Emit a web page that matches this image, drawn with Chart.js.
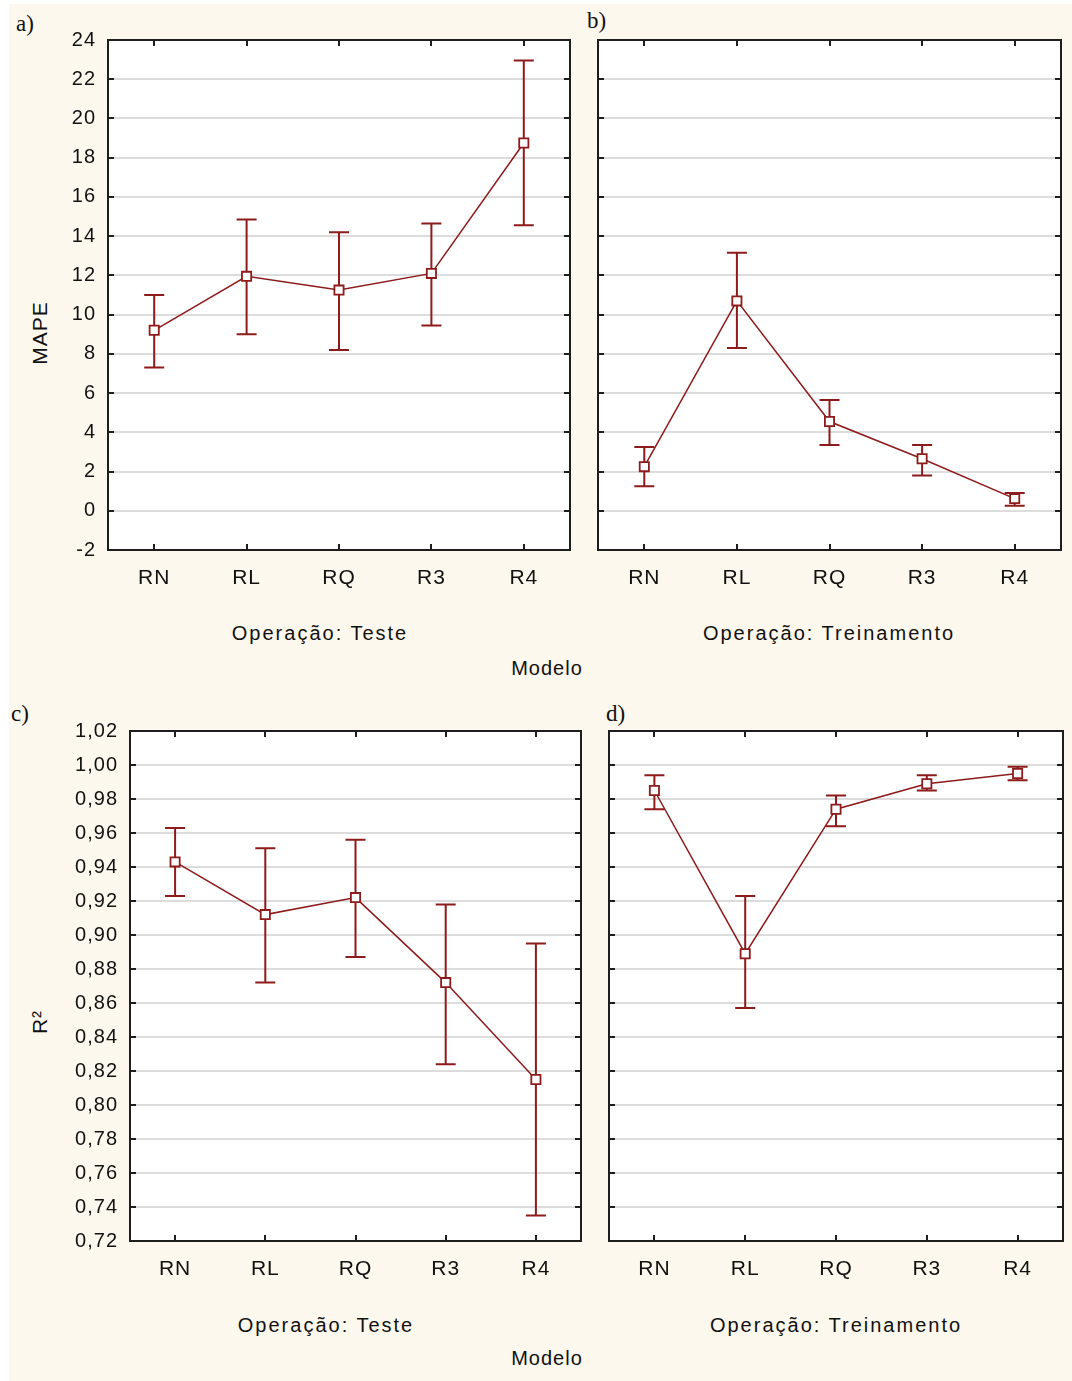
<!DOCTYPE html>
<html>
<head>
<meta charset="utf-8">
<script src="https://cdn.jsdelivr.net/npm/chart.js@4.4.1/dist/chart.umd.min.js"></script>
<style>
  body { margin: 0; background: #fff; width: 1072px; height: 1381px; position: relative; overflow: hidden; }
  #sheet { position: absolute; left: 9px; top: 4px; width: 1063px; height: 1377px; background: #fdf8ee; }
  canvas { position: absolute; }
  .txt { position: absolute; font-family: "Liberation Sans", Arial, sans-serif; font-size: 20px; color: #111; white-space: nowrap; line-height: 24px; }
  .sp { letter-spacing: 2px; transform: translateX(-50%); }
  .tag { position: absolute; font-family: "Liberation Serif", "Times New Roman", serif; font-size: 23px; color: #111; line-height: 24px; }
  .ytitle { transform: translate(-50%, -50%) rotate(-90deg); font-size: 21px; letter-spacing: 1px; }
</style>
</head>
<body>
<div id="sheet"></div>

<div class="tag" style="left:16px;top:12px">a)</div>
<div class="tag" style="left:587px;top:9px">b)</div>
<div class="tag" style="left:11px;top:702px">c)</div>
<div class="tag" style="left:606px;top:702px">d)</div>

<div class="txt ytitle" style="left:40px;top:333px">MAPE</div>
<div class="txt ytitle" style="left:40px;top:1022px">R²</div>

<div class="txt sp" style="left:320px;top:621px">Operação: Teste</div>
<div class="txt sp" style="left:829px;top:621px">Operação: Treinamento</div>
<div class="txt sp" style="left:547px;top:656px;letter-spacing:1px">Modelo</div>

<div class="txt sp" style="left:326px;top:1313px">Operação: Teste</div>
<div class="txt sp" style="left:836px;top:1313px">Operação: Treinamento</div>
<div class="txt sp" style="left:547px;top:1346px;letter-spacing:1px">Modelo</div>

<canvas id="chartA" width="570" height="580" style="left:10px;top:30px"></canvas>
<canvas id="chartB" width="483" height="580" style="left:588px;top:30px"></canvas>
<canvas id="chartC" width="581" height="580" style="left:10px;top:721px"></canvas>
<canvas id="chartD" width="473" height="580" style="left:599px;top:721px"></canvas>

<script>
const categories = ["RN", "RL", "RQ", "R3", "R4"];

// MAPE - Operação: Teste
const mapeTesteMean = [9.2, 11.95, 11.25, 12.1, 18.75];
const mapeTesteLow = [7.3, 9.0, 8.2, 9.45, 14.55];
const mapeTesteHigh = [11.0, 14.85, 14.2, 14.65, 22.95];

// MAPE - Operação: Treinamento
const mapeTreinoMean = [2.25, 10.7, 4.55, 2.65, 0.62];
const mapeTreinoLow = [1.25, 8.3, 3.35, 1.8, 0.25];
const mapeTreinoHigh = [3.25, 13.15, 5.65, 3.35, 0.9];

// R² - Operação: Teste
const r2TesteMean = [0.943, 0.912, 0.922, 0.872, 0.815];
const r2TesteLow = [0.923, 0.872, 0.887, 0.824, 0.735];
const r2TesteHigh = [0.963, 0.951, 0.956, 0.918, 0.895];

// R² - Operação: Treinamento
const r2TreinoMean = [0.985, 0.889, 0.974, 0.989, 0.995];
const r2TreinoLow = [0.974, 0.857, 0.964, 0.985, 0.991];
const r2TreinoHigh = [0.994, 0.923, 0.982, 0.994, 0.999];

// axis ranges: min, max, step
const mapeAxis = [-2, 24, 2];
const r2Axis = [0.72, 1.02, 0.02];

const lineColor = "#8e1b1b";
const frameColor = "#1e1e1e";

Chart.defaults.font.family = '"Liberation Sans", Arial, sans-serif';
Chart.defaults.font.size = 21;
Chart.defaults.color = "#111";

const panelFrame = {
  id: "panelFrame",
  beforeLayout: (chart) => { chart.ctx.letterSpacing = "1px"; },
  beforeDraw: (chart) => {
    const { ctx, chartArea: { left, top, width, height } } = chart;
    ctx.letterSpacing = "1px";
    ctx.save();
    ctx.fillStyle = "#fff";
    ctx.fillRect(left, top, width, height);
    ctx.restore();
  },
  beforeDatasetsDraw: (chart, args, opts) => {
    const { ctx, scales: { y } } = chart;
    const meta = chart.getDatasetMeta(0);
    ctx.save();
    ctx.strokeStyle = lineColor;
    ctx.lineWidth = 2;
    meta.data.forEach((pt, i) => {
      const yTop = y.getPixelForValue(opts.high[i]);
      const yBot = y.getPixelForValue(opts.low[i]);
      ctx.beginPath();
      ctx.moveTo(pt.x, yTop);
      ctx.lineTo(pt.x, yBot);
      ctx.moveTo(pt.x - 10, yTop);
      ctx.lineTo(pt.x + 10, yTop);
      ctx.moveTo(pt.x - 10, yBot);
      ctx.lineTo(pt.x + 10, yBot);
      ctx.stroke();
    });
    ctx.restore();
  },
  afterDraw: (chart) => {
    const { ctx, chartArea: { left, right, top, bottom }, scales: { x, y } } = chart;
    ctx.save();
    ctx.strokeStyle = frameColor;
    ctx.lineWidth = 2;
    ctx.beginPath();
    // tick marks point inwards on all four sides
    y.ticks.forEach((t) => {
      const py = Math.round(y.getPixelForValue(t.value));
      ctx.moveTo(left, py);
      ctx.lineTo(left + 6, py);
      ctx.moveTo(right, py);
      ctx.lineTo(right - 6, py);
    });
    categories.forEach((c, i) => {
      const px = Math.round(x.getPixelForValue(i));
      ctx.moveTo(px, top);
      ctx.lineTo(px, top + 6);
      ctx.moveTo(px, bottom);
      ctx.lineTo(px, bottom - 6);
    });
    ctx.stroke();
    ctx.strokeRect(left, top, right - left, bottom - top);
    ctx.restore();
  }
};

Chart.register(panelFrame);

const makePanel = (id, mean, low, high, axis, yWidth, padRight, showLabels, decimals) => {
  const ctx = document.getElementById(id).getContext("2d");
  return new Chart(ctx, {
    type: "line",
    data: {
      labels: categories,
      datasets: [{
        data: mean,
        borderColor: lineColor,
        borderWidth: 1.5,
        tension: 0,
        pointStyle: "rect",
        pointRadius: 6.5,
        pointBorderWidth: 1.8,
        pointBorderColor: lineColor,
        pointBackgroundColor: "#fff"
      }]
    },
    options: {
      responsive: false,
      animation: false,
      layout: { padding: { top: 10, right: padRight, left: 0, bottom: 0 } },
      plugins: {
        legend: { display: false },
        tooltip: { enabled: false },
        panelFrame: { low: low, high: high }
      },
      scales: {
        x: {
          offset: true,
          afterFit: (scale) => {
            scale.height = 60;
            scale.paddingLeft = 0;
            scale.paddingRight = 0;
          },
          grid: { display: false, drawTicks: false },
          border: { display: false },
          ticks: { padding: 16, font: { size: 21 } }
        },
        y: {
          min: axis[0],
          max: axis[1],
          afterFit: (scale) => {
            scale.width = yWidth;
            scale.paddingTop = 0;
            scale.paddingBottom = 0;
          },
          grid: { color: "#dcdcdc", lineWidth: 2, drawTicks: false },
          border: { display: false },
          ticks: {
            display: showLabels,
            stepSize: axis[2],
            padding: 12,
            font: { size: 20 },
            callback: (v) => decimals ? v.toFixed(decimals).replace(".", ",") : Math.round(v)
          }
        }
      }
    }
  });
};

makePanel("chartA", mapeTesteMean, mapeTesteLow, mapeTesteHigh, mapeAxis, 98, 10, true, 0);
makePanel("chartB", mapeTreinoMean, mapeTreinoLow, mapeTreinoHigh, mapeAxis, 10, 10, false, 0);
makePanel("chartC", r2TesteMean, r2TesteLow, r2TesteHigh, r2Axis, 120, 10, true, 2);
makePanel("chartD", r2TreinoMean, r2TreinoLow, r2TreinoHigh, r2Axis, 10, 9, false, 2);
</script>
</body>
</html>
